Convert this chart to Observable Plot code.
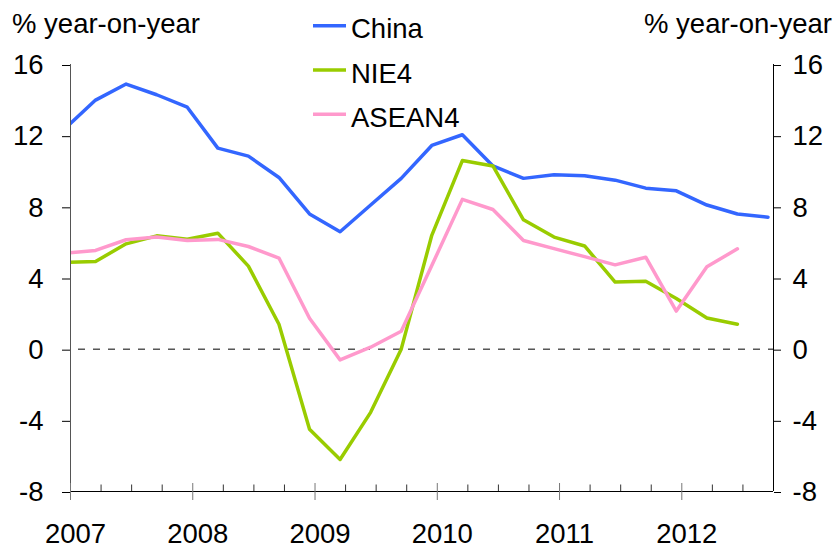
<!DOCTYPE html>
<html>
<head>
<meta charset="utf-8">
<script src="https://cdn.jsdelivr.net/npm/d3@7"></script>
<script src="https://cdn.jsdelivr.net/npm/@observablehq/plot@0.6"></script>
<style>
  html, body { margin: 0; padding: 0; background: #fff; }
  #chart { position: relative; width: 836px; height: 550px; overflow: hidden; }
</style>
</head>
<body>
<div id="chart"></div>
<script>
// ---- data (quarterly, % year-on-year) ----
const quarters = ["2006Q4",
  "2007Q1","2007Q2","2007Q3","2007Q4",
  "2008Q1","2008Q2","2008Q3","2008Q4",
  "2009Q1","2009Q2","2009Q3","2009Q4",
  "2010Q1","2010Q2","2010Q3","2010Q4",
  "2011Q1","2011Q2","2011Q3","2011Q4",
  "2012Q1","2012Q2","2012Q3"];
const china  = [12.4, 14.0, 14.9, 14.3, 13.6, 11.3, 10.85, 9.65, 7.6, 6.6, 8.1, 9.6, 11.45, 12.05, 10.3, 9.6, 9.8, 9.75, 9.5, 9.05, 8.9, 8.1, 7.6, 7.42];
const nie4   = [4.88, 4.93, 5.92, 6.37, 6.18, 6.52, 4.67, 1.4, -4.5, -6.2, -3.55, 0.0, 6.4, 10.6, 10.3, 7.27, 6.3, 5.8, 3.77, 3.82, 2.85, 1.75, 1.4];
const asean4 = [5.39, 5.55, 6.15, 6.3, 6.11, 6.17, 5.77, 5.12, 1.74, -0.6, 0.11, 1.01, 4.7, 8.42, 7.85, 6.11, 5.65, 5.2, 4.74, 5.17, 2.14, 4.63, 5.64];

const seriesNames  = ["China", "NIE4", "ASEAN4"];
const seriesColors = ["#3366FF", "#99CC00", "#FF99CC"];
const yTicks = [-8, -4, 0, 4, 8, 12, 16];
const yearTicks = [2007, 2008, 2009, 2010, 2011, 2012];
const axisTitle = "% year-on-year";

// ---- build table ----
function quarterPos(label) {
  const yr = +label.slice(0, 4), q = +label.slice(5);
  return yr + (q - 1) * 0.25 + 0.205;
}
const rows = [];
[china, nie4, asean4].forEach((vals, si) => {
  vals.forEach((v, i) => rows.push({series: seriesNames[si], x: quarterPos(quarters[i]), value: v}));
});
const minorTicks = d3.range(2007, 2012.75, 0.25).filter(t => !Number.isInteger(t));

const FONT = "'Liberation Sans', Arial, Helvetica, sans-serif";
const FS = 27.5;

const chart = Plot.plot({
  width: 836,
  height: 550,
  marginLeft: 70,
  marginRight: 63,
  marginTop: 64,
  marginBottom: 59,
  style: {fontFamily: FONT, fontSize: FS + "px", background: "white", color: "black", overflow: "visible"},
  x: {type: "linear", domain: [2007, 2012.75], axis: null},
  y: {domain: [-8, 16], axis: null},
  color: {domain: seriesNames, range: seriesColors},
  marks: [
    Plot.ruleY([0], {stroke: "black", strokeWidth: 1, strokeDasharray: "7,8", strokeDashoffset: 7}),
    Plot.line(rows, {x: "x", y: "value", z: "series", stroke: "series", strokeWidth: 3.5, clip: true}),
    Plot.ruleX([2007], {stroke: "#555"}),
    Plot.ruleX([2012.75], {stroke: "black"}),
    Plot.ruleY([-8], {stroke: "black"}),
    Plot.ruleX(minorTicks, {x: d => d, y1: -8, y2: -8, insetTop: -6.5, stroke: "#333"}),
    Plot.ruleX(yearTicks, {x: d => d, y1: -8, y2: -8, insetTop: -8, insetBottom: -9, stroke: "#777"}),
    Plot.text(yearTicks, {x: d => d, y: -8, text: d => String(d), dy: 43, dx: 5, fontSize: FS}),
    Plot.axisY(yTicks, {anchor: "left", tickSize: 8, tickPadding: 19, fontSize: FS, dy: 1, label: null, tickFormat: d => String(d)}),
    Plot.axisY(yTicks, {anchor: "right", tickSize: 7, tickPadding: 12, fontSize: FS, dy: 1, label: null, tickFormat: d => String(d)})
  ]
});
document.getElementById("chart").appendChild(chart);

// ---- titles and legend ----
const svg = d3.select(chart);
const g = svg.append("g")
  .attr("font-family", FONT)
  .attr("font-size", FS)
  .attr("fill", "black")
  .attr("text-anchor", "start");
g.append("text").attr("x", 12).attr("y", 33).text(axisTitle);
g.append("text").attr("x", 644).attr("y", 33).text(axisTitle);
seriesNames.forEach((name, i) => {
  const ly = 25.7 + i * 44.3;
  g.append("line").attr("x1", 313).attr("x2", 346).attr("y1", ly).attr("y2", ly)
    .attr("stroke", seriesColors[i]).attr("stroke-width", 3.5);
  g.append("text").attr("x", 351).attr("y", ly + 12.5).text(name);
});
</script>
</body>
</html>
